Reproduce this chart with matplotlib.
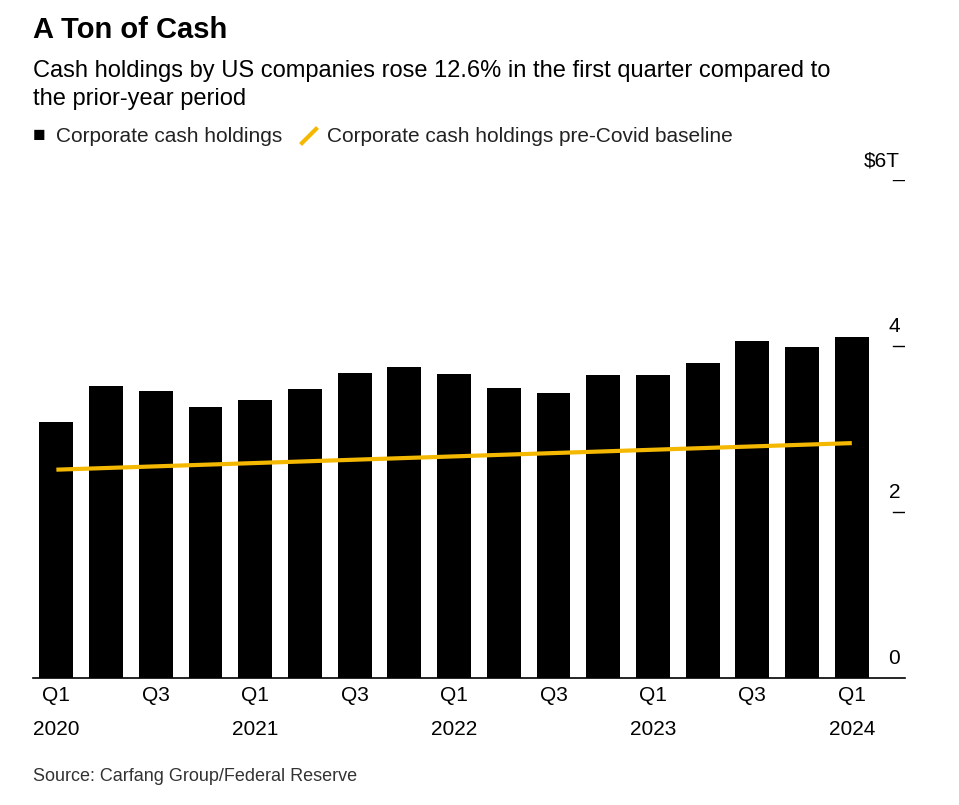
import matplotlib.pyplot as plt
import numpy as np

quarters = ["Q1\n2020", "Q2", "Q3", "Q4", "Q1\n2021", "Q2", "Q3", "Q4",
            "Q1\n2022", "Q2", "Q3", "Q4", "Q1\n2023", "Q2", "Q3", "Q4", "Q1\n2024"]
cash = [3.08, 3.52, 3.46, 3.27, 3.35, 3.48, 3.67, 3.75, 3.66, 3.49, 3.43,
        3.65, 3.65, 3.80, 4.06, 3.99, 4.11]
baseline = [2.51, 2.53, 2.55, 2.57, 2.59, 2.61, 2.63, 2.65, 2.67, 2.69, 2.71,
            2.73, 2.75, 2.77, 2.79, 2.81, 2.83]
yticks = [0, 2, 4, 6]
ylabels = ["0", "2", "4", "$6T"]

plt.rcParams['font.family'] = ['Liberation Sans', 'DejaVu Sans']
fig = plt.figure(figsize=(9.59, 8.05), dpi=100)
ax = fig.add_axes([33/959, 1-678/805, (905-33)/959, (678-180)/805])

x = np.arange(len(cash))
ax.bar(x, cash, width=0.68, color="black", zorder=2)
ax.plot(x, baseline, color="#f5b800", lw=3, zorder=3, solid_capstyle="butt")

ax.set_xlim(-0.47, 17.07)
ax.set_ylim(0, 6)
for s in ["top", "right", "left"]:
    ax.spines[s].set_visible(False)
ax.spines["bottom"].set_linewidth(1.2)
ax.set_yticks([])
ax.set_xticks(x[::2])
ax.set_xticklabels(quarters[::2], fontsize=15, linespacing=2.0)
ax.tick_params(axis="x", length=0, pad=6)

for v, lab in zip(yticks, ylabels):
    if v > 0:
        ax.axhline(v, xmin=(893-33)/872, xmax=1, color="black", lw=1)
    ax.text(1.0 - 5/872, v + 0.12, lab, transform=ax.get_yaxis_transform(),
            ha="right", va="bottom", fontsize=15)

fig.text(33/959, 1-30/805, "A Ton of Cash", fontsize=21, fontweight="bold", va="center")
fig.text(33/959, 1-85/805,
         "Cash holdings by US companies rose 12.6% in the first quarter compared to\nthe prior-year period",
         fontsize=17, va="center", linespacing=1.35)
fig.text(33/959, 1-136/805, "\u25a0", fontsize=15, va="center")
fig.text(56/959, 1-136/805, "Corporate cash holdings", fontsize=15, va="center", color="#222222")
fig.lines.append(plt.Line2D([302/959, 316/959], [1-143/805, 1-129/805],
                            transform=fig.transFigure, color="#f5b800", lw=3))
fig.text(327/959, 1-136/805, "Corporate cash holdings pre-Covid baseline",
         fontsize=15, va="center", color="#222222")
fig.text(33/959, 1-776/805, "Source: Carfang Group/Federal Reserve", fontsize=13,
         va="center", color="#333333")

fig.savefig("out.png", dpi=100, facecolor="white")
